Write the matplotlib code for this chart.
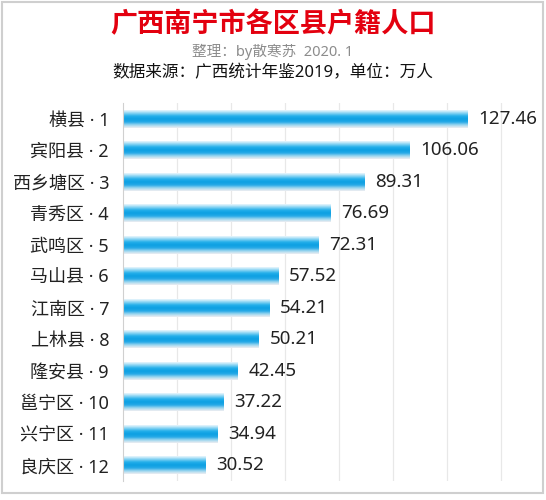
import numpy as np
import matplotlib.pyplot as plt
from matplotlib.colors import LinearSegmentedColormap
from matplotlib.patches import Rectangle

plt.rcParams['font.family'] = ['Noto Sans', 'Noto Sans CJK SC', 'DejaVu Sans']

# data
districts = ["横县", "宾阳县", "西乡塘区", "青秀区", "武鸣区", "马山县",
             "江南区", "上林县", "隆安县", "邕宁区", "兴宁区", "良庆区"]
population = [127.46, 106.06, 89.31, 76.69, 72.31, 57.52,
              54.21, 50.21, 42.45, 37.22, 34.94, 30.52]
ranks = list(range(1, len(districts) + 1))

title = "广西南宁市各区县户籍人口"
subtitle = "整理：by散寒苏  2020. 1"
source = "数据来源：广西统计年鉴2019，单位：万人"

fig = plt.figure(figsize=(5.46, 5.0), dpi=100)
fig.patch.set_facecolor("white")
ax = fig.add_axes([0.2253, 0.038, 0.967 - 0.2253, 0.794 - 0.038])

# cylinder-like gradient for the bars (top -> bottom)
bar_cmap = LinearSegmentedColormap.from_list(
    "bar", ["#eef8fd", "#86d3f3", "#22aeea", "#0c9fe2", "#25a9e7", "#9ad6ef", "#f0eef2"])
grad = np.linspace(0, 1, 64).reshape(-1, 1)

n = len(districts)
bar_h = 0.57
for i, v in enumerate(population):
    y = n - 1 - i
    ax.imshow(grad, cmap=bar_cmap, aspect="auto", origin="upper",
              extent=[0, v, y - bar_h / 2, y + bar_h / 2], zorder=2,
              interpolation="bicubic")
    ax.text(v + 4, y, f"{v:.2f}", va="center", ha="left",
            fontsize=13.5, color="#222222")

ax.set_xlim(0, 150)
ax.set_ylim(-0.5, n - 0.5)
ax.set_yticks(range(n))
ax.set_yticklabels([f"{d} · {r}" for d, r in zip(districts, ranks)][::-1],
                   fontsize=13, color="#222222")
ax.set_xticks(np.arange(20, 150, 20))
ax.set_xticklabels([])
ax.tick_params(length=0, pad=10)
ax.grid(axis="x", color="#e8e8e8", linewidth=0.9, zorder=0)
for s in ["top", "right", "bottom"]:
    ax.spines[s].set_visible(False)
ax.spines["left"].set_color("#d0d0d0")
ax.spines["left"].set_zorder(3)

fig.text(0.5, 0.95, title, ha="center", va="center", fontsize=19.5,
         fontweight="bold", color="#e3000f")
fig.text(0.5, 0.896, subtitle, ha="center", va="center", fontsize=10.5,
         color="#8c8c8c")
fig.text(0.5, 0.854, source, ha="center", va="center", fontsize=12,
         color="#111111")

# light frame around the picture
fig.patches.append(Rectangle((0.004, 0.014), 0.99, 0.982, transform=fig.transFigure,
                             fill=False, edgecolor="#cfcfcf", linewidth=1.5))

fig.savefig("out.png", dpi=100, facecolor="white")
